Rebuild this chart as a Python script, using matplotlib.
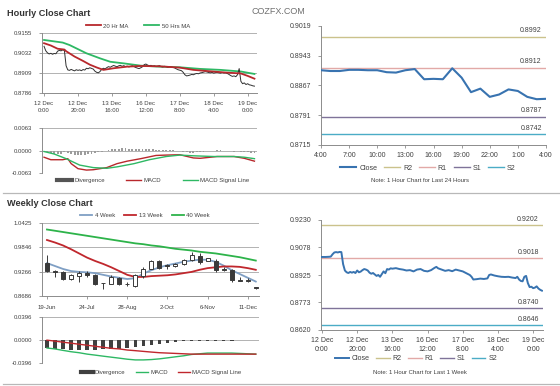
import numpy as np
import matplotlib
matplotlib.use('Agg')
import matplotlib.pyplot as plt
from matplotlib.lines import Line2D

plt.rcParams['font.family'] = ['Liberation Sans', 'DejaVu Sans']

# ---------------- DATA ----------------
hourly_ticks = ["12 Dec\n0:00", "12 Dec\n20:00", "13 Dec\n16:00", "16 Dec\n12:00",
                "17 Dec\n8:00", "18 Dec\n4:00", "19 Dec\n0:00"]
hourly_tick_hours = [0, 20, 40, 60, 80, 100, 120]

h_close = [
    0.9075, 0.9048, 0.9035, 0.9028, 0.9032, 0.9026, 0.9031, 0.9029, 0.9045, 0.9050,
    0.9047, 0.9053, 0.9049, 0.8955, 0.8930, 0.8927, 0.8933, 0.8928, 0.8924, 0.8931,
    0.8927, 0.8930, 0.8925, 0.8932, 0.8929, 0.8940, 0.8937, 0.8943, 0.8939, 0.8935,
    0.8922, 0.8915, 0.8912, 0.8920, 0.8934, 0.8940, 0.8936, 0.8944, 0.8950, 0.8946,
    0.8952, 0.8957, 0.8953, 0.8949, 0.8955, 0.8958, 0.8952, 0.8956, 0.8950, 0.8953,
    0.8948, 0.8952, 0.8955, 0.8950, 0.8945, 0.8941, 0.8938, 0.8943, 0.8949, 0.8962,
    0.8966, 0.8960, 0.8955, 0.8958, 0.8952, 0.8955, 0.8950, 0.8953, 0.8956, 0.8950,
    0.8948, 0.8952, 0.8950, 0.8946, 0.8950, 0.8948, 0.8945, 0.8942, 0.8936, 0.8931,
    0.8928, 0.8925, 0.8915, 0.8900, 0.8893, 0.8895, 0.8898, 0.8902, 0.8900, 0.8905,
    0.8908, 0.8906, 0.8911, 0.8913, 0.8916, 0.8919, 0.8917, 0.8914, 0.8912, 0.8915,
    0.8910, 0.8913, 0.8915, 0.8912, 0.8910, 0.8914, 0.8911, 0.8912, 0.8908, 0.8902,
    0.8895, 0.8890, 0.8893, 0.8888, 0.8900, 0.8938, 0.8860, 0.8845, 0.8850, 0.8840,
    0.8845, 0.8838, 0.8836, 0.8832, 0.8830]

ma20_hours = [0, 4, 8, 12, 13, 18, 23, 27, 31, 35, 41, 49, 57, 68, 80, 88, 96, 108, 116, 120, 124]
ma20 = [0.9094, 0.9080, 0.9060, 0.9055, 0.9045, 0.9012, 0.8985, 0.8962, 0.8945, 0.8930, 0.8940,
        0.8950, 0.8954, 0.8952, 0.8944, 0.8930, 0.8923, 0.8913, 0.8908, 0.8893, 0.8876]
ma50_hours = [0, 11, 15, 25, 33, 39, 47, 57, 68, 80, 92, 104, 116, 124]
ma50 = [0.9114, 0.9098, 0.9083, 0.9032, 0.9001, 0.8980, 0.8970, 0.8956, 0.8950, 0.8946,
        0.8936, 0.8930, 0.8920, 0.8905]
h_price_ticks = ["0.8786", "0.8909", "0.9032", "0.9155"]

macd_h_hours = [0, 4, 11, 14, 16, 20, 25, 29, 37, 43, 49, 57, 66, 72, 80, 88, 92, 102, 112, 118, 124]
macd_h = [-0.0018, -0.0025, -0.0025, -0.0022, -0.0036, -0.0050, -0.0054, -0.0053, -0.0047, -0.0036,
          -0.0029, -0.0022, -0.0013, -0.0012, -0.0011, -0.0020, -0.0021, -0.0016, -0.0016, -0.0021, -0.0029]
signal_h_hours = [0, 6, 13, 21, 29, 37, 43, 53, 62, 72, 80, 88, 100, 112, 118, 124]
signal_h = [-0.0002, -0.0009, -0.0022, -0.0040, -0.0047, -0.0049, -0.0045, -0.0036, -0.0025, -0.0016,
            -0.0012, -0.0014, -0.0016, -0.0016, -0.0018, -0.0022]
div_h = [0.0000, -0.0003, -0.0006, -0.0008, -0.0009, -0.0008, -0.0004, -0.0006, -0.0010, -0.0012,
         -0.0012, -0.0012, -0.0011, -0.0010, -0.0008, -0.0006, -0.0004, -0.0002, 0.0000, 0.0002,
         0.0004, 0.0005, 0.0006, 0.0007, 0.0007, 0.0006, 0.0005, 0.0005, 0.0004, 0.0004,
         0.0005, 0.0005, 0.0004, 0.0003, 0.0003, 0.0002, 0.0002, 0.0001, 0.0001, 0.0000,
         -0.0001, -0.0002, -0.0004, -0.0005, -0.0005, -0.0004, -0.0003, -0.0002, -0.0001, 0.0000,
         0.0000, 0.0001, 0.0001, 0.0000, 0.0000, -0.0001, -0.0002, -0.0001, -0.0002, -0.0003,
         -0.0004, -0.0005, -0.0006]
h_macd_ticks = ["-0.0063", "0.0000", "0.0063"]

# 24 hour chart
d24_labels = ["4:00", "7:00", "10:00", "13:00", "16:00", "19:00", "22:00", "1:00", "4:00"]
d24_close = [0.8906, 0.8904, 0.8904, 0.8907, 0.8907, 0.8906, 0.8906, 0.8901, 0.8900, 0.8906,
             0.8909, 0.8883, 0.8884, 0.8883, 0.8911, 0.8887, 0.8850, 0.8859, 0.8838, 0.8844,
             0.8857, 0.8853, 0.8838, 0.8832, 0.8833]
d24_levels = [0.8992, 0.8912, 0.8787, 0.8742]
d24_yticks = ["0.8715", "0.8791", "0.8867", "0.8943", "0.9019"]

# weekly candles
week_labels = ["19-Jun", "24-Jul", "28-Aug", "2-Oct", "6-Nov", "11-Dec"]
wk_open = [0.947, 0.9275, 0.926, 0.910, 0.916, 0.924, 0.918, 0.8995, 0.898, 0.912, 0.898, 0.893, 0.917,
           0.934, 0.952, 0.9415, 0.941, 0.945, 0.955, 0.965, 0.953, 0.953, 0.933, 0.930, 0.907, 0.906, 0.890]
wk_high = [0.966, 0.931, 0.929, 0.922, 0.929, 0.927, 0.922, 0.900, 0.918, 0.915, 0.902, 0.920, 0.937,
           0.955, 0.954, 0.946, 0.948, 0.957, 0.973, 0.971, 0.960, 0.957, 0.937, 0.933, 0.914, 0.912, 0.891]
wk_low = [0.925, 0.914, 0.906, 0.906, 0.902, 0.914, 0.894, 0.886, 0.896, 0.894, 0.892, 0.890, 0.912,
          0.932, 0.933, 0.934, 0.938, 0.943, 0.953, 0.945, 0.951, 0.926, 0.928, 0.902, 0.904, 0.903, 0.886]
wk_close = [0.927, 0.9255, 0.910, 0.918, 0.924, 0.918, 0.898, 0.899, 0.914, 0.897, 0.8965, 0.918, 0.934,
            0.953, 0.935, 0.940, 0.945, 0.955, 0.967, 0.949, 0.958, 0.930, 0.931, 0.906, 0.905, 0.904, 0.887]
wk_ma4 = [0.947, 0.940, 0.933, 0.928, 0.926, 0.925, 0.923, 0.919, 0.915, 0.912, 0.909, 0.911, 0.922,
          0.930, 0.937, 0.942, 0.946, 0.950, 0.953, 0.955, 0.955, 0.950, 0.941, 0.930, 0.921, 0.912, 0.903]
wk_ma13 = [1.002, 0.996, 0.989, 0.980, 0.970, 0.960, 0.952, 0.945, 0.937, 0.928, 0.919, 0.914, 0.914,
           0.916, 0.917, 0.918, 0.920, 0.923, 0.926, 0.931, 0.935, 0.937, 0.939, 0.939, 0.938, 0.935, 0.931]
wk_ma40 = [1.027, 1.024, 1.021, 1.018, 1.015, 1.012, 1.009, 1.006, 1.003, 1.000, 0.997, 0.994, 0.992,
           0.989, 0.987, 0.984, 0.981, 0.979, 0.977, 0.974, 0.972, 0.970, 0.967, 0.964, 0.961, 0.957, 0.953]
wk_yticks = ["0.8686", "0.9266", "0.9846", "1.0425"]

wk_div = [-0.013, -0.0145, -0.015, -0.016, -0.016, -0.016, -0.016, -0.015, -0.015, -0.015, -0.013,
          -0.012, -0.010, -0.009, -0.007, -0.005, -0.003, -0.002, -0.002, -0.0015, -0.001, -0.0015,
          -0.001, -0.001, -0.0005, -0.0005, 0.0]
wk_macd = [-0.0134, -0.0151, -0.0175, -0.0198, -0.0215, -0.0239, -0.0256, -0.0274, -0.0291, -0.0308,
           -0.0326, -0.0338, -0.0338, -0.0332, -0.0320, -0.0303, -0.0285, -0.0268, -0.0245, -0.0233,
           -0.0221, -0.0221, -0.0221, -0.0221, -0.0227, -0.0233, -0.0239]
wk_signal = [0.0, -0.0017, -0.0035, -0.0052, -0.0070, -0.0087, -0.0105, -0.0122, -0.0140, -0.0150,
             -0.0169, -0.0180, -0.0192, -0.0204, -0.0215, -0.0221, -0.0227, -0.0233, -0.0239, -0.0239,
             -0.0239, -0.0239, -0.0239, -0.0239, -0.0239, -0.0239, -0.0239]
wk_macd_ticks = ["-0.0396", "0.0000", "0.0396"]

# 1 week hourly chart
w1_hours = [0, 2, 4, 5, 6, 7, 8, 9, 10, 11, 12, 13, 14, 15, 16, 17, 18, 19, 20, 21, 22, 23, 24, 25,
            26, 27, 28, 29, 30, 31, 32, 33, 34, 35, 36, 37, 38, 39, 40, 42, 44, 46, 48, 50, 52, 54,
            56, 58, 60, 62, 64, 65, 66, 68, 70, 72, 74, 76, 78, 80, 82, 84, 85, 86, 88, 90, 92, 94,
            95, 96, 98, 100, 102, 104, 106, 108, 110, 111, 112, 113, 114, 115, 116, 117, 118, 119,
            120, 121, 122, 123, 124, 125]
w1_close = [0.9025, 0.9025, 0.9026, 0.9027, 0.9040, 0.9050, 0.9052, 0.9050, 0.9053, 0.9052, 0.8985,
            0.8950, 0.8940, 0.8936, 0.8942, 0.8938, 0.8942, 0.8936, 0.8950, 0.8940, 0.8944, 0.8952,
            0.8958, 0.8955, 0.8950, 0.8938, 0.8932, 0.8936, 0.8928, 0.8920, 0.8925, 0.8915, 0.8930,
            0.8945, 0.8935, 0.8958, 0.8955, 0.8962, 0.8960, 0.8963, 0.8958, 0.8955, 0.8950, 0.8952,
            0.8945, 0.8955, 0.8958, 0.8948, 0.8945, 0.8952, 0.8965, 0.8970, 0.8962, 0.8955, 0.8948,
            0.8952, 0.8946, 0.8955, 0.8950, 0.8945, 0.8935, 0.8925, 0.8915, 0.8900, 0.8902, 0.8905,
            0.8903, 0.8906, 0.8925, 0.8928, 0.8922, 0.8918, 0.8915, 0.8914, 0.8915, 0.8911, 0.8908,
            0.8915, 0.8900, 0.8892, 0.8890, 0.8915, 0.8920, 0.8880, 0.8858, 0.8860, 0.8852, 0.8855,
            0.8862, 0.8850, 0.8843, 0.8838]
w1_levels = [0.9202, 0.9018, 0.8740, 0.8646]
w1_yticks = ["0.8620", "0.8773", "0.8925", "0.9078", "0.9230"]

level_names = ["R2", "R1", "S1", "S2"]

# ---------------- STYLE ----------------
W, H = 560, 386
fig = plt.figure(figsize=(5.6, 3.86), dpi=100)
fig.patch.set_facecolor('white')

AX_C = '#8c8c8c'
TXT = '#404040'
GRID = '#a6a6a6'
LVL_COLORS = ['#cbc28c', '#e2a9a7', '#7f7399', '#4bacc6']
BLUE = '#3873b0'


def rect(x0, y0, x1, y1):
    return [x0 / W, 1 - y1 / H, (x1 - x0) / W, (y1 - y0) / H]


def style(ax, fs, ypad=5, xpad=3):
    for s in ['top', 'right']:
        ax.spines[s].set_visible(False)
    for s in ['left', 'bottom']:
        ax.spines[s].set_color(AX_C)
        ax.spines[s].set_linewidth(0.7)
    ax.tick_params(axis='y', length=2, width=0.6, color=AX_C, labelsize=fs, labelcolor=TXT, pad=ypad)
    ax.tick_params(axis='x', length=2.2, width=0.6, color=AX_C, labelsize=fs, labelcolor=TXT, pad=xpad)


def set_yticks(ax, labels):
    vals = [float(v) for v in labels]
    ax.set_ylim(vals[0], vals[-1])
    ax.set_yticks(vals)
    ax.set_yticklabels(labels)


def fig_text(x, y, s, **kw):
    fig.text(x / W, 1 - y / H, s, **kw)


def fig_legend(ax, handles, labels, cx, cy, fs, hl, cs, htp=0.4):
    ax.legend(handles, labels, loc='center', bbox_to_anchor=(cx / W, 1 - cy / H),
              bbox_transform=fig.transFigure, ncol=len(handles), frameon=False,
              fontsize=fs, handlelength=hl, columnspacing=cs, handletextpad=htp,
              borderaxespad=0, borderpad=0, labelcolor=TXT)


# titles
fig_text(7, 13, "Hourly Close Chart", fontsize=6.6, fontweight='bold', color='#333333', va='center')
fig_text(7, 203, "Weekly Close Chart", fontsize=6.6, fontweight='bold', color='#333333', va='center')
fig_text(278, 12, "COZFX.COM", fontsize=6.5, color='#707070', va='center', ha='center')

# separators
for yy in (193, 384):
    fig.add_artist(Line2D([3 / W, 1.0], [1 - yy / H] * 2, color='#b8b8b8', lw=0.9))

# ---- Hourly price ----
ax1 = fig.add_axes(rect(42, 33.3, 257, 93.3))
style(ax1, 4.3, xpad=3.5)
hrs = np.arange(len(h_close))
ax1.plot(hrs, h_close, color='#303030', lw=0.7, zorder=3)
l20, = ax1.plot(ma20_hours, ma20, color='#b8282c', lw=1.3, zorder=4)
l50, = ax1.plot(ma50_hours, ma50, color='#2eb864', lw=1.3, zorder=2)
set_yticks(ax1, h_price_ticks)
ax1.set_xlim(-1.2, 125.5)
ax1.set_xticks(hourly_tick_hours)
ax1.set_xticklabels(hourly_ticks, linespacing=1.4)
ax1.yaxis.grid(True, color=GRID, lw=0.6)
ax1.set_axisbelow(True)
fig_legend(ax1, [l20, l50], ["20 Hr MA", "50 Hrs MA"], 138, 26, 4.3, 2.5, 2.6)

# ---- Hourly MACD ----
ax2 = fig.add_axes(rect(42, 128.3, 257, 173.3))
style(ax2, 4.3)
ax2.spines['bottom'].set_visible(False)
div_hours = np.arange(0, 125, 2)
ax2.bar(div_hours, div_h, width=1.1, color='#9c9c9c', zorder=2)
lm, = ax2.plot(macd_h_hours, macd_h, color='#b8282c', lw=1.0, zorder=3)
ls, = ax2.plot(signal_h_hours, signal_h, color='#2eb864', lw=1.0, zorder=3)
set_yticks(ax2, h_macd_ticks)
ax2.set_xlim(-1.2, 125.5)
ax2.set_xticks([])
ax2.yaxis.grid(True, color=GRID, lw=0.6)
ax2.set_axisbelow(True)
hdiv = Line2D([0], [0], color='#555555', lw=3)
fig_legend(ax2, [hdiv, lm, ls], ["Divergence", "MACD", "MACD Signal Line"], 153, 180, 4.3, 2.5, 3.6)

# ---- 24h chart ----
ax3 = fig.add_axes(rect(321, 26, 546, 145))
style(ax3, 5.0, xpad=3)
lc, = ax3.plot(np.arange(len(d24_close)), d24_close, color=BLUE, lw=1.5, zorder=4)
lv = []
for v, c in zip(d24_levels, LVL_COLORS):
    ln = ax3.axhline(v, color=c, lw=1.0, zorder=2)
    lv.append(ln)
    ax3.annotate(f"{v:.4f}", xy=(1, v), xycoords=('axes fraction', 'data'), xytext=(-3, 1.8),
                 textcoords='offset points', ha='right', va='bottom', fontsize=5, color=TXT)
set_yticks(ax3, d24_yticks)
ax3.set_xlim(0, 24)
ax3.set_xticks(np.arange(0, 25, 3))
ax3.set_xticklabels(d24_labels)
fig_legend(ax3, [lc] + lv, ["Close"] + level_names, 428, 168, 5.0, 2.3, 1.0)
fig_text(420, 180, "Note: 1 Hour Chart for Last 24 Hours", fontsize=4.3, color=TXT, ha='center', va='center')

# ---- Weekly candles ----
ax4 = fig.add_axes(rect(42, 223, 259, 296))
style(ax4, 4.3, xpad=4)
x = np.arange(len(wk_open))
o = np.array(wk_open); c = np.array(wk_close); hi = np.array(wk_high); lo = np.array(wk_low)
l4, = ax4.plot(x, wk_ma4, color='#7f9fc4', lw=1.3, zorder=2)
l13, = ax4.plot(x, wk_ma13, color='#c0272d', lw=1.3, zorder=2)
l40, = ax4.plot(x, wk_ma40, color='#2db34a', lw=1.3, zorder=2)
ax4.vlines(x, lo, hi, color='#3a3a3a', lw=0.7, zorder=3)
up = c >= o
ax4.bar(x[up], (c - o)[up], bottom=o[up], width=0.5, color='white', edgecolor='#3a3a3a', lw=0.7, zorder=4)
ax4.bar(x[~up], (o - c)[~up], bottom=c[~up], width=0.5, color='#3a3a3a', edgecolor='#3a3a3a', lw=0.7, zorder=4)
set_yticks(ax4, wk_yticks)
ax4.set_xlim(-0.62, 26.4)
ax4.set_xticks(np.arange(0, 26, 5))
ax4.set_xticklabels(week_labels)
ax4.yaxis.grid(True, color=GRID, lw=0.6)
ax4.set_axisbelow(True)
fig_legend(ax4, [l4, l13, l40], ["4 Week", "13 Week", "40 Week"], 145, 215, 4.3, 2.0, 1.6)

# ---- Weekly MACD ----
ax5 = fig.add_axes(rect(42, 317, 259, 363.3))
style(ax5, 4.3)
ax5.spines['bottom'].set_visible(False)
ax5.bar(x, wk_div, width=0.45, color='#404040', zorder=2)
wm, = ax5.plot(x, wk_macd, color='#2eb864', lw=1.0, zorder=3)
wsg, = ax5.plot(x, wk_signal, color='#c0272d', lw=1.0, zorder=3)
set_yticks(ax5, wk_macd_ticks)
ax5.set_xlim(-0.62, 26.4)
ax5.set_xticks([])
ax5.yaxis.grid(True, color=GRID, lw=0.6)
ax5.set_axisbelow(True)
wdiv = Line2D([0], [0], color='#404040', lw=3)
fig_legend(ax5, [wdiv, wm, wsg], ["Divergence", "MACD", "MACD Signal Line"], 161, 372, 4.3, 2.0, 1.7)

# ---- 1 week hourly ----
ax6 = fig.add_axes(rect(321, 220, 543, 330))
style(ax6, 5.0, xpad=3)
lc2, = ax6.plot(w1_hours, w1_close, color=BLUE, lw=1.4, zorder=4)
lv2 = []
for v, col in zip(w1_levels, LVL_COLORS):
    ln = ax6.axhline(v, color=col, lw=1.0, zorder=2)
    lv2.append(ln)
    ax6.annotate(f"{v:.4f}", xy=(1, v), xycoords=('axes fraction', 'data'), xytext=(-3, 1.8),
                 textcoords='offset points', ha='right', va='bottom', fontsize=5, color=TXT)
set_yticks(ax6, w1_yticks)
ax6.set_xlim(-0.57, 125.6)
ax6.set_xticks(hourly_tick_hours)
ax6.set_xticklabels(hourly_ticks, linespacing=1.3)
fig_legend(ax6, [lc2] + lv2, ["Close"] + level_names, 416, 359, 5.0, 2.0, 0.9)
fig_text(420, 373, "Note: 1 Hour Chart for Last 1 Week", fontsize=4.3, color=TXT, ha='center', va='center')

fig.savefig('out.png', dpi=100, facecolor='white')
